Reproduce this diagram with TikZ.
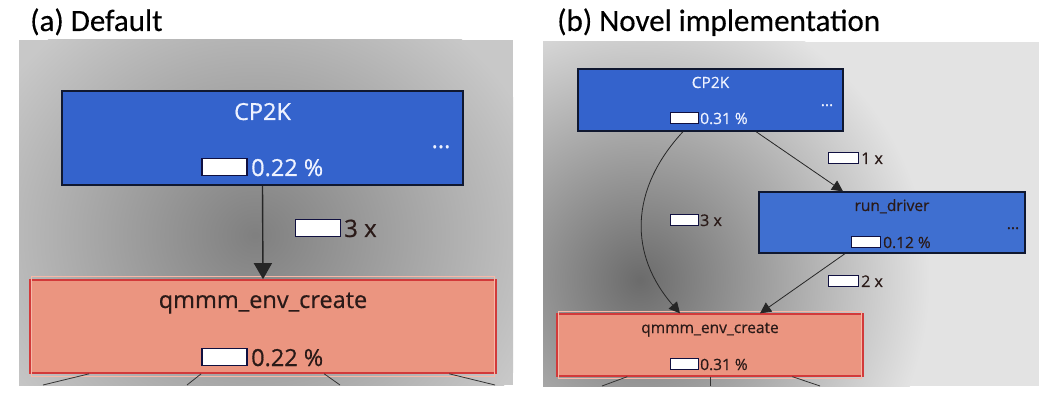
\documentclass[tikz,border=0pt]{standalone}
\usepackage{fontspec}
\setmainfont{Open Sans}[FakeBold=0.6]
\newfontfamily\titlefont{Carlito}[FakeBold=0.3]
\usetikzlibrary{arrows.meta}
\definecolor{bluefill}{HTML}{3463CC}
\definecolor{bluefillb}{HTML}{3F6FD0}
\definecolor{blueedge}{HTML}{101830}
\definecolor{salfill}{HTML}{EB9580}
\definecolor{saledge}{HTML}{D23A3A}
\definecolor{salinner}{HTML}{F6B8A8}
\definecolor{bga}{HTML}{C8C8C8}
\definecolor{bgb}{HTML}{E3E3E3}
\definecolor{bardark}{HTML}{101040}
\definecolor{txtdark}{HTML}{2A1A18}
\definecolor{wtext}{HTML}{EEF2FF}
\tikzset{
  bluebox/.style={draw=blueedge, line width=1.6pt, fill=bluefill, inner sep=0pt},
  salbox/.style={draw=saledge, line width=1.6pt, fill=salfill, inner sep=0pt},
  wtxt/.style={text=wtext, inner sep=0pt, anchor=base},
  dtxt/.style={text=txtdark, inner sep=0pt, anchor=base},
  bar/.style={draw=bardark, line width=1.2pt, fill=white, inner sep=0pt},
  arr/.style={draw=black!85, line width=1.4pt, -{Triangle[length=16pt,width=18pt]}},
  arrb/.style={draw=black!85, line width=0.8pt, -{Triangle[length=11pt,width=11pt]}},
  stub/.style={draw=black!80, line width=0.8pt},
  title/.style={inner sep=0pt, anchor=base west, font=\titlefont\fontsize{31}{33}\selectfont},
}
\begin{document}
\begin{tikzpicture}[x=1pt,y=-1pt]
\useasboundingbox (0,0) rectangle (1060,403);
\fill[white] (0,0) rectangle (1060,403);
% titles
\node[title] (ta) at (30,31) {(a) Default};
\node[title] (tb) at (557,31) {(b) Novel implementation};
% backgrounds
\fill[bga] (19,40) rectangle (513,385);
\begin{scope}
  \clip (19,40) rectangle (513,385);
  \shade[inner color=black!50, outer color=bga] (255,235) ellipse (300 and 270);
\end{scope}
\fill[bgb] (543,42) rectangle (1039,386);
\begin{scope}
  \clip (543,42) rectangle (1039,386);
  \shade[inner color=black!58, outer color=bgb] (640,280) ellipse (290 and 290);
\end{scope}
% ---------- panel (a)
\node[bluebox, minimum width=401pt, minimum height=94pt] (cpa) at (262.5,138) {};
\node[salbox, minimum width=466pt, minimum height=93pt] (qa) at (263,326.5) {};
\draw[salinner, line width=1pt] ([shift={(2.5pt,-2.5pt)}]qa.south west) rectangle ([shift={(-2.5pt,2.5pt)}]qa.north east);
\node[wtxt, font=\fontsize{23.5}{25}\selectfont] (cpat) at (262.5,120) {CP2K};
\node[wtxt, font=\fontsize{23.5}{25}\selectfont] (cpad) at (441,148) {...};
\node[bar, minimum width=45pt, minimum height=17pt] (cpab) at (224.5,167) {};
\node[wtxt, font=\fontsize{23.5}{25}\selectfont, anchor=base west] (cpap) at (251,176) {0.22 \%};
\node[dtxt, font=\fontsize{23.5}{25}\selectfont] (qat) at (263,308) {qmmm\_env\_create};
\node[bar, minimum width=45pt, minimum height=17pt] (qab) at (224.5,357) {};
\node[dtxt, font=\fontsize{23.5}{25}\selectfont, anchor=base west] (qap) at (251,366) {0.22 \%};
\node[bar, minimum width=45pt, minimum height=17pt] (ea1b) at (318,228) {};
\node[dtxt, font=\fontsize{24}{25}\selectfont, anchor=base west] (ea1t) at (344,237) {3 x};
\draw[arr] (cpa.south) -- (qa.north);
\coordinate (sa1) at (43,385);
\coordinate (sa2) at (187,385);
\coordinate (sa3) at (340,385);
\coordinate (sa4) at (495,385);
\draw[stub] ([xshift=60pt]qa.south west) -- (sa1);
\draw[stub] ([xshift=172pt]qa.south west) -- (sa2);
\draw[stub] ([xshift=295pt]qa.south west) -- (sa3);
\draw[stub] ([xshift=420pt]qa.south west) -- (sa4);
% ---------- panel (b)
\node[bluebox, line width=1.3pt, minimum width=265pt, minimum height=62pt] (cpb) at (710.5,100) {};
\node[bluebox, line width=1.3pt, fill=bluefillb, minimum width=266pt, minimum height=61pt] (rdb) at (892,222.5) {};
\node[salbox, line width=1.3pt, minimum width=306pt, minimum height=62pt] (qb) at (710,345) {};
\draw[salinner, line width=0.8pt] ([shift={(2pt,-2pt)}]qb.south west) rectangle ([shift={(-2pt,2pt)}]qb.north east);
\node[wtxt, font=\fontsize{15.5}{17}\selectfont] (cpbt) at (710.5,88) {CP2K};
\node[wtxt, font=\fontsize{15.5}{17}\selectfont] (cpbd) at (827,106) {...};
\node[bar, line width=1pt, minimum width=28pt, minimum height=11pt] (cpbb) at (684,118.5) {};
\node[wtxt, font=\fontsize{15.5}{17}\selectfont, anchor=base west] (cpbp) at (700,124) {0.31 \%};
\node[dtxt, font=\fontsize{15.5}{17}\selectfont] (rdbt) at (892,211) {run\_driver};
\node[dtxt, font=\fontsize{15.5}{17}\selectfont] (rdbd) at (1013,229) {...};
\node[bar, line width=1pt, minimum width=29pt, minimum height=11pt] (rdbb) at (865.5,242.5) {};
\node[dtxt, font=\fontsize{15.5}{17}\selectfont, anchor=base west] (rdbp) at (883,248) {0.12 \%};
\node[dtxt, font=\fontsize{15.5}{17}\selectfont] (qbt) at (710,333) {qmmm\_env\_create};
\node[bar, line width=1pt, minimum width=28pt, minimum height=11pt] (qbb) at (684,364) {};
\node[dtxt, font=\fontsize{15.5}{17}\selectfont, anchor=base west] (qbp) at (700,370) {0.31 \%};
% edge labels (b)
\node[bar, line width=1pt, minimum width=28pt, minimum height=11pt] (e3b) at (684,220) {};
\node[dtxt, font=\fontsize{16}{17}\selectfont, anchor=base west] (e3t) at (700,226) {3 x};
\node[bar, line width=1pt, minimum width=30pt, minimum height=11pt] (e1b) at (843,158.5) {};
\node[dtxt, font=\fontsize{16}{17}\selectfont, anchor=base west] (e1t) at (861,164) {1 x};
\node[bar, line width=1pt, minimum width=30pt, minimum height=11pt] (e2b) at (843,281.5) {};
\node[dtxt, font=\fontsize{16}{17}\selectfont, anchor=base west] (e2t) at (861,287) {2 x};
% edges (b)
\draw[arrb] ([xshift=-27.5pt]cpb.south) .. controls (629,190) and (629,255) .. ([xshift=-30pt]qb.north);
\draw[arrb] ([xshift=45.5pt]cpb.south) -- ([xshift=-49pt]rdb.north);
\draw[arrb] ([xshift=-47pt]rdb.south) -- ([xshift=50pt]qb.north);
\coordinate (sb1) at (602,386);
\coordinate (sb2) at (710,386);
\coordinate (sb3) at (820,386);
\draw[stub] ([xshift=71pt]qb.south west) -- (sb1);
\draw[stub] (qb.south) -- (sb2);
\draw[stub] ([xshift=236pt]qb.south west) -- (sb3);
\end{tikzpicture}
\end{document}
